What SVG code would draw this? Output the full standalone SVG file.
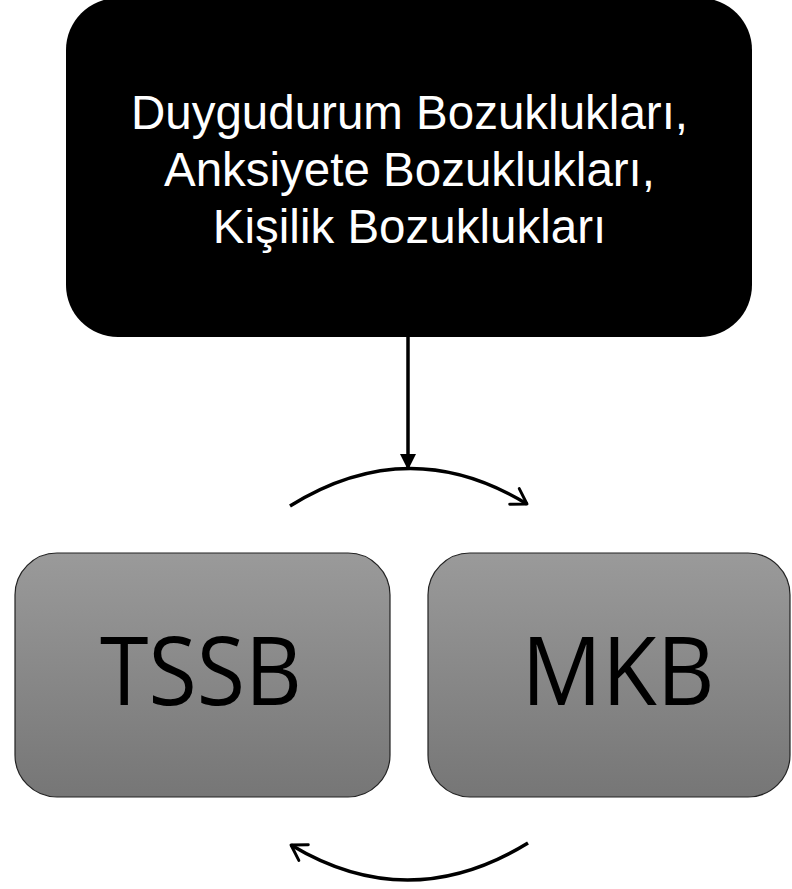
<svg xmlns="http://www.w3.org/2000/svg" width="792" height="889" viewBox="0 0 792 889">
  <defs>
    <linearGradient id="grey" x1="0" y1="0" x2="0" y2="1">
      <stop offset="0" stop-color="#9a9a9a"/>
      <stop offset="1" stop-color="#767676"/>
    </linearGradient>
    <marker id="solidHead" viewBox="0 0 10 10" refX="10" refY="5" markerWidth="16" markerHeight="16" markerUnits="userSpaceOnUse" orient="auto">
      <path d="M0,0 L10,5 L0,10 Z" fill="#000"/>
    </marker>
    <marker id="openHead" viewBox="0 0 12 12" refX="10" refY="6" markerWidth="22" markerHeight="22" markerUnits="userSpaceOnUse" orient="auto">
      <path d="M2,1 L10,6 L2,11" fill="none" stroke="#000" stroke-width="1.6" stroke-linecap="round" stroke-linejoin="round"/>
    </marker>
  </defs>
  <style>
    .top-text { font-family: "Liberation Sans", Arial, sans-serif; font-size: 47.5px; fill: #fff; text-anchor: middle; }
    .box-text { font-family: "Open Sans", "Liberation Sans", sans-serif; font-size: 95px; fill: #000; text-anchor: middle; }
    .grey-box { fill: url(#grey); stroke: #222; stroke-width: 1.2; }
    .link { fill: none; stroke: #000; stroke-width: 3.5; }
  </style>

  <g id="disorders">
    <rect x="66" y="-2" width="686" height="339" rx="52" ry="52" fill="#000"/>
    <text class="top-text" x="409.5" y="129">Duygudurum Bozuklukları,</text>
    <text class="top-text" x="409.5" y="186">Anksiyete Bozuklukları,</text>
    <text class="top-text" x="409.5" y="243">Kişilik Bozuklukları</text>
  </g>

  <g id="tssb">
    <rect class="grey-box" x="15" y="553" width="375" height="244" rx="42" ry="42"/>
    <text class="box-text" x="201" y="705" textLength="202" lengthAdjust="spacingAndGlyphs">TSSB</text>
  </g>

  <g id="mkb">
    <rect class="grey-box" x="428" y="553" width="362" height="244" rx="42" ry="42"/>
    <text class="box-text" x="618" y="705" textLength="193" lengthAdjust="spacingAndGlyphs">MKB</text>
  </g>

  <g id="connectors">
    <line class="link" x1="408" y1="337" x2="408" y2="470" stroke-width="2.5" marker-end="url(#solidHead)"/>
    <path class="link" d="M290,506 Q409,432 527,504" marker-end="url(#openHead)"/>
    <path class="link" d="M528,843 Q409,916 291,845" marker-end="url(#openHead)"/>
  </g>
</svg>
